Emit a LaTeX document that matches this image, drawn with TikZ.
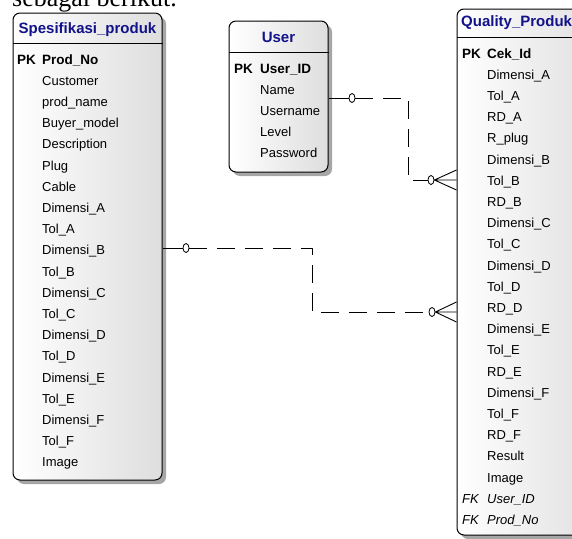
\documentclass[tikz,border=0pt]{standalone}
\usepackage{fontspec}
\setmainfont{Liberation Sans}
\newfontfamily\capfont{Liberation Serif}
\usetikzlibrary{shapes.geometric,shadows,calc}
\definecolor{navy}{HTML}{12128A}
\begin{document}
\begin{tikzpicture}[x=1pt,y=-1pt,font=\fontsize{13}{15}\selectfont,line join=round,
  tbl/.style={draw,line width=1pt,rounded corners=7pt,left color=white,right color=black!13,inner sep=0pt,
    drop shadow={shadow xshift=4pt,shadow yshift=-4pt,fill=black!35,opacity=1}},
  ttl/.style={text=navy,font=\fontsize{15}{17}\selectfont\bfseries,inner sep=0pt},
  fld/.style={anchor=base west,inner sep=0pt},
  key/.style={anchor=base west,inner sep=0pt,font=\fontsize{13.5}{15}\selectfont\bfseries},
  ring/.style={draw,ellipse,fill=white,minimum width=6pt,minimum height=9pt,inner sep=0pt,line width=0.8pt},
  dashln/.style={dash pattern=on 18pt off 10pt,line width=0.9pt}]
\useasboundingbox (0,0) rectangle (572,538);
\node[fld,font=\fontsize{26}{30}\selectfont\capfont] (cap) at (12,6.5) {sebagai berikut.};
% tabel
\node[tbl,minimum width=149pt,minimum height=467pt] (spek) at (87.5,246.5) {};
\node[tbl,minimum width=99pt,minimum height=151pt] (user) at (278.5,96.5) {};
\node[tbl,minimum width=150pt,minimum height=526pt] (qual) at (532,272) {};
\node[ttl,anchor=base] (spekT) at (87.5,33) {Spesifikasi\_produk};
\node[ttl,anchor=base] (userT) at (278.5,42) {User};
\node[ttl,anchor=base west] (qualT) at (461,26) {Quality\_Produk};
\draw[line width=0.9pt] (spek.west |- 0,43) -- (spek.east |- 0,43);
\draw[line width=0.9pt] (user.west |- 0,52) -- (user.east |- 0,52);
\draw[line width=0.9pt] (qual.west |- 0,37) -- (qual.east |- 0,37);
% kolom
\node[key] (spekK) at (17,64) {PK};
\node[key] (spek-0) at (42,64) {Prod\_No};
\foreach \f [count=\i] in {Customer,prod\_name,Buyer\_model,Description,Plug,Cable,Dimensi\_A,Tol\_A,Dimensi\_B,Tol\_B,Dimensi\_C,Tol\_C,Dimensi\_D,Tol\_D,Dimensi\_E,Tol\_E,Dimensi\_F,Tol\_F,Image}
  \node[fld] (spek-\i) at (42,{64+21.2*\i}) {\f};
\node[key] (userK) at (234,73) {PK};
\node[key] (user-0) at (260,73) {User\_ID};
\foreach \f [count=\i] in {Name,Username,Level,Password}
  \node[fld] (user-\i) at (260,{73+21*\i}) {\f};
\node[key] (qualK) at (462,58) {PK};
\node[key] (qual-0) at (487,58) {Cek\_Id};
\foreach \f [count=\i] in {Dimensi\_A,Tol\_A,RD\_A,R\_plug,Dimensi\_B,Tol\_B,RD\_B,Dimensi\_C,Tol\_C,Dimensi\_D,Tol\_D,RD\_D,Dimensi\_E,Tol\_E,RD\_E,Dimensi\_F,Tol\_F,RD\_F,Result,Image}
  \node[fld] (qual-\i) at (487,{58+21.2*\i}) {\f};
\foreach \f/\k [count=\i from 21] in {User\_ID/qfkA,Prod\_No/qfkB}{
  \node[fld,font=\fontsize{13}{15}\selectfont\itshape] (\k) at (462,{58+21.2*\i}) {FK};
  \node[fld,font=\fontsize{13}{15}\selectfont\itshape] (qual-\i) at (487,{58+21.2*\i}) {\f};}
% relasi
\node[ring] (o1) at (352,98) {};
\node[ring] (o2) at (431,180) {};
\node[ring] (o3) at (186,248) {};
\node[ring] (o4) at (432,312) {};
\coordinate (k1) at (408,180);
\coordinate (k2) at (312,312);
\draw[line width=0.9pt] (user.east |- o1) -- (o1);
\draw[dashln] (o1) -| (k1) -- (o2);
\draw[line width=0.9pt] ($(qual.west |- o2)+(0,-10)$) -- (o2.east) -- ($(qual.west |- o2)+(0,10)$) (o2.east) -- (qual.west |- o2);
\draw[line width=0.9pt] (spek.east |- o3) -- (o3);
\draw[dashln] (o3) -| (k2) -- (o4);
\draw[line width=0.9pt] ($(qual.west |- o4)+(0,-10)$) -- (o4.east) -- ($(qual.west |- o4)+(0,10)$) (o4.east) -- (qual.west |- o4);
\end{tikzpicture}
\end{document}
